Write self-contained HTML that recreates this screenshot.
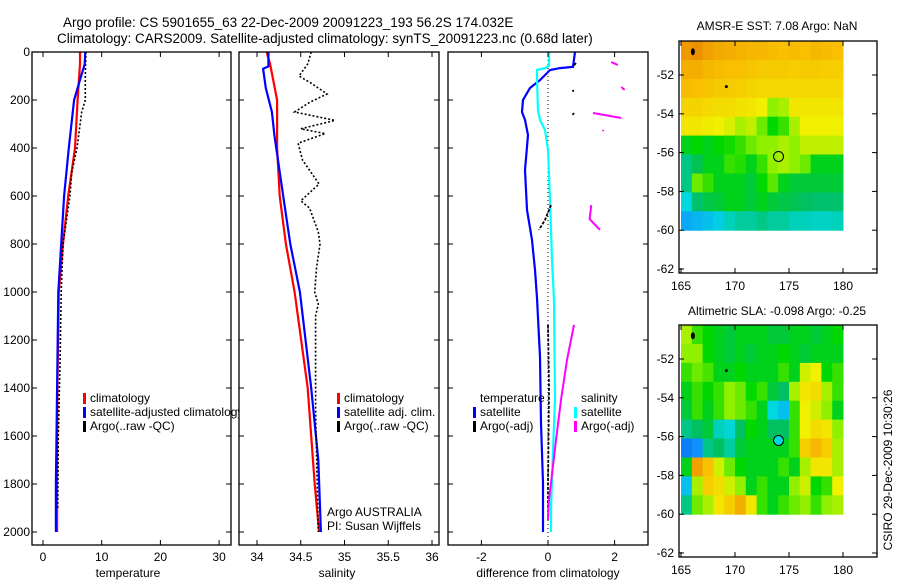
<!DOCTYPE html>
<html><head><meta charset="utf-8"><style>
body{margin:0;background:#fff;}
svg{display:block;font-family:"Liberation Sans",sans-serif;}
text{fill:#000;}
</style></head><body>
<svg id="fig" width="900" height="580" viewBox="0 0 900 580">
<text x="63" y="27" font-size="13.5">Argo profile: CS 5901655_63 22-Dec-2009 20091223_193 56.2S 174.032E</text>
<text x="57" y="43" font-size="13.5">Climatology: CARS2009. Satellite-adjusted climatology: synTS_20091223.nc (0.68d later)</text>
<text x="777" y="30" font-size="12" text-anchor="middle">AMSR-E SST: 7.08 Argo: NaN</text>
<text x="777" y="315" font-size="12" text-anchor="middle">Altimetric SLA: -0.098 Argo: -0.25</text>
<text transform="translate(892,470) rotate(-90)" font-size="12" text-anchor="middle">CSIRO 29-Dec-2009 10:30:26</text>
</svg>
<script>
// ---------- data ----------
const depthTicks=[0,200,400,600,800,1000,1200,1400,1600,1800,2000];
const tempTicks=[0,10,20,30];
const salTicks=[34,34.5,35,35.5,36];
const salTickLabels=["34","34.5","35","35.5","36"];
const diffTicks=[-2,0,2];
const climDepth=[0,50,200,400,600,800,1000,1400,1800,2000];
const tempClim=[6.3,6.3,5.9,5.45,4.3,3.4,2.7,2.45,2.4,2.4];
const tempSat=[7.2,7.1,5.3,4.4,3.6,3.1,2.6,2.4,2.2,2.2];
const argoDepth=[0,100,200,250,400,500,600,800,1000,1300,1600,1900];
const tempArgo=[7.3,7.2,7.2,6.6,5.8,4.9,4.6,3.4,3.1,2.9,2.6,2.5];
const salClim=[34.11,34.15,34.23,34.23,34.26,34.33,34.43,34.58,34.66,34.71];
const salSatDepth=[0,60,70,150,250,350,600,800,1000,1400,1700,2000];
const salSat=[34.13,34.13,34.07,34.1,34.17,34.2,34.3,34.38,34.49,34.62,34.7,34.73];
const salArgoDepth=[0,50,100,130,175,210,250,285,320,340,380,450,550,620,650,750,800,900,1000,1050,1100,1500,2000];
const salArgo=[34.62,34.58,34.48,34.62,34.8,34.6,34.43,34.89,34.5,34.78,34.47,34.52,34.71,34.5,34.6,34.7,34.72,34.68,34.66,34.7,34.67,34.67,34.7];
const dTempSatDepth=[0,62,67,75,117,150,200,250,283,346,492,658,783,908,1025,1270,1546,1796,2000];
const dTempSat=[0.81,0.75,0.36,0.06,-0.24,-0.54,-0.75,-0.78,-0.69,-0.6,-0.69,-0.63,-0.48,-0.39,-0.33,-0.24,-0.21,-0.15,-0.15];
const dSalSatDepth=[0,58,67,75,117,242,283,325,408,617,867,1033,1450,1658,1908,2000];
const dSalSat=[0.03,0.03,-0.09,-0.33,-0.33,-0.3,-0.24,-0.09,0,0.06,0.12,0.18,0.21,0.15,0.09,0.09];
const dTempArgoDepth=[46,56,null,158,166,null,254,262,null,638,700,741,null,1137,1400,1800,1950];
const dTempArgo=[0.84,0.78,null,0.75,0.76,null,0.78,0.74,null,0.09,-0.09,-0.27,null,0,0.03,0,0];
const dSalArgoDepth=[42,54,null,146,158,null,254,275,null,325,330,null,638,696,741,null,1137,1283,1450,1617,1867,1950];
const dSalArgo=[1.9,2.1,null,2.2,2.3,null,1.35,2.2,null,1.65,1.66,null,1.3,1.25,1.56,null,0.78,0.57,0.39,0.24,0.03,0];
const lonTicks=[165,170,175,180];
const latTicks=[-52,-54,-56,-58,-60,-62];
const sstGrid=[
[.86,.88,.85,.83,.82,.81,.8,.8,.79,.78,.79,.78,.8,.79,.78],
[.82,.82,.8,.79,.78,.78,.77,.76,.76,.76,.75,.76,.76,.75,.75],
[.79,.78,.77,.76,.76,.75,.74,.73,.73,.73,.73,.73,.73,.73,.73],
[.74,.74,.73,.72,.72,.71,.7,.68,.6,.62,.7,.7,.7,.7,.7],
[.7,.7,.69,.68,.66,.62,.64,.58,.52,.55,.62,.68,.68,.68,.68],
[.5,.52,.5,.52,.53,.55,.58,.6,.6,.62,.6,.64,.64,.64,.64],
[.42,.46,.5,.5,.55,.54,.5,.55,.6,.62,.6,.58,.5,.5,.5],
[.42,.58,.55,.5,.5,.5,.48,.52,.57,.5,.48,.48,.48,.48,.48],
[.35,.44,.47,.48,.5,.5,.48,.5,.48,.47,.46,.45,.44,.44,.44],
[.25,.28,.3,.33,.38,.4,.4,.42,.4,.4,.38,.38,.37,.37,.38]];
const slaGrid=[
[.62,.55,.52,.5,.48,.5,.5,.5,.48,.48,.5,.5,.48,.5,.52],
[.6,.6,.52,.5,.48,.5,.48,.5,.5,.52,.5,.48,.5,.5,.5],
[.55,.58,.56,.5,.5,.52,.5,.5,.5,.55,.5,.65,.68,.52,.55],
[.5,.55,.52,.55,.6,.58,.52,.55,.48,.45,.62,.7,.72,.62,.55],
[.48,.55,.5,.55,.6,.58,.55,.5,.35,.3,.55,.68,.65,.6,.5],
[.42,.45,.48,.38,.36,.45,.52,.5,.45,.45,.55,.68,.72,.7,.6],
[.15,.2,.42,.45,.4,.48,.5,.5,.5,.5,.55,.75,.8,.75,.62],
[.5,.85,.78,.65,.58,.52,.5,.5,.5,.55,.5,.62,.7,.7,.62],
[.3,.62,.75,.72,.65,.6,.5,.55,.5,.5,.6,.65,.52,.55,.68],
[.42,.58,.62,.7,.75,.82,.7,.55,.5,.55,.58,.6,.55,.6,.62]];
const gridLon0=165, gridLat0=-50.25, gridDLat=0.975;
const argoPos=[174.03,-56.2];

// ---------- helpers ----------
const NS="http://www.w3.org/2000/svg";
const svg=document.getElementById('fig');
function mk(tag,attrs,parent){const e=document.createElementNS(NS,tag);for(const k in attrs)e.setAttribute(k,attrs[k]);(parent||svg).appendChild(e);return e;}
const yD=d=>52+0.24*d;
function panel(x0,x1,name){
  const g=mk('g',{});
  
  
  const cp=mk('clipPath',{id:'clip-'+name},g);mk('rect',{x:x0,y:52,width:x1-x0,height:493},cp);
  return g;
}
function frame(g,x0,x1){const r=mk('rect',{x:x0,y:52,width:x1-x0,height:493,fill:'none',stroke:'#000','stroke-width':1.3},g);
  }
function series(g,clip,depths,vals,xs,color,w,dash,name){
  let pts=[];const segs=[];
  for(let i=0;i<depths.length;i++){if(depths[i]===null){if(pts.length)segs.push(pts);pts=[];continue;}pts.push(xs(vals[i]).toFixed(1)+','+yD(depths[i]).toFixed(1));}
  if(pts.length)segs.push(pts);
  segs.forEach(s=>{const p=mk('polyline',{points:s.join(' '),fill:'none',stroke:color,'stroke-width':w,'clip-path':'url(#clip-'+clip+')'},g);
    if(dash)p.setAttribute('stroke-dasharray',dash);
    
    });
}
function xaxis(g,ticks,labels,xs,title,tx){
  ticks.forEach((t,i)=>{const x=xs(t);mk('line',{x1:x,y1:545,x2:x,y2:540,stroke:'#000'},g);mk('line',{x1:x,y1:52,x2:x,y2:57,stroke:'#000'},g);
    const l=mk('text',{x:x,y:561,'font-size':12,'text-anchor':'middle'},g);l.textContent=labels[i];
    });
  const tt=mk('text',{x:tx,y:577,'font-size':12,'text-anchor':'middle'},g);tt.textContent=title;
  
}
function yticks(g,x0,x1,labels){
  depthTicks.forEach(d=>{const y=yD(d);mk('line',{x1:x0,y1:y,x2:x0+5,y2:y,stroke:'#000'},g);mk('line',{x1:x1,y1:y,x2:x1-5,y2:y,stroke:'#000'},g);
   if(labels){const l=mk('text',{x:x0-2,y:y+4,'font-size':12,'text-anchor':'end'},g);l.textContent=d;
    }});
}
function legend(g,x,y,items,clip){
  items.forEach((it,i)=>{
    if(it[1]){const b=mk('rect',{x:x,y:y+i*14-9,width:3,height:11,fill:it[1]},g);}
    const t=mk('text',{x:x+7,y:y+i*14,'font-size':12},g);t.textContent=it[0];
    if(clip)t.setAttribute('clip-path','url(#'+clip+')');
    });
}

// ---------- panel 1: temperature ----------
const xT=t=>43+5.87*t;
let g1=panel(32,231,'temperature-panel');
series(g1,'temperature-panel',climDepth,tempClim,xT,'#ff0000',2.2,null,'temp-climatology-line');
series(g1,'temperature-panel',climDepth,tempSat,xT,'#0000ff',2.2,null,'temp-satellite-line');
series(g1,'temperature-panel',argoDepth,tempArgo,xT,'#000',1.6,'2 2','temp-argo-line');
frame(g1,32,231);yticks(g1,32,231,true);
xaxis(g1,tempTicks,tempTicks.map(String),xT,'temperature',128);
const lc=mk('clipPath',{id:'legclip'},g1);mk('rect',{x:0,y:0,width:239,height:580},lc);
legend(g1,83,402,[['climatology','#ff0000'],['satellite-adjusted climatology','#0000ff'],['Argo(..raw -QC)','#000']],'legclip');

// ---------- panel 2: salinity ----------
const xS=s=>257+87.5*(s-34);
let g2=panel(239,439,'salinity-panel');
series(g2,'salinity-panel',climDepth,salClim,xS,'#ff0000',2.2,null,'sal-climatology-line');
series(g2,'salinity-panel',salSatDepth,salSat,xS,'#0000ff',2.2,null,'sal-satellite-line');
series(g2,'salinity-panel',salArgoDepth,salArgo,xS,'#000',1.6,'2 2','sal-argo-line');
frame(g2,239,439);yticks(g2,239,439,false);
xaxis(g2,salTicks,salTickLabels,xS,'salinity',337);
legend(g2,337,402,[['climatology','#ff0000'],['satellite adj. clim.','#0000ff'],['Argo(..raw -QC)','#000']]);
const a1=mk('text',{x:327,y:516,'font-size':12},g2);a1.textContent='Argo AUSTRALIA';
const a2=mk('text',{x:327,y:530,'font-size':12},g2);a2.textContent='PI: Susan Wijffels';

// ---------- panel 3: difference ----------
const xDf=d=>548+33.3*d;
let g3=panel(448,648,'difference-panel');
mk('line',{x1:548,y1:52,x2:548,y2:545,stroke:'#000','stroke-dasharray':'1 3'},g3);
series(g3,'difference-panel',dTempSatDepth,dTempSat,xDf,'#0000ff',2.2,null,'diff-temp-satellite-line');
series(g3,'difference-panel',dSalSatDepth,dSalSat,xDf,'#00ffff',2.2,null,'diff-sal-satellite-line');
series(g3,'difference-panel',dTempArgoDepth,dTempArgo,xDf,'#000',1.8,'3 1.5','diff-temp-argo-line');
series(g3,'difference-panel',dSalArgoDepth,dSalArgo,xDf,'#ff00ff',2,null,'diff-sal-argo-line');
frame(g3,448,648);yticks(g3,448,648,false);
xaxis(g3,diffTicks,diffTicks.map(String),xDf,'difference from climatology',548);
legend(g3,473,402,[['temperature',null],['satellite','#0000ff'],['Argo(-adj)','#000']]);
legend(g3,574,402,[['salinity',null],['satellite','#00ffff'],['Argo(-adj)','#ff00ff']]);

// ---------- maps ----------
const cstops=[[0,[0,64,224]],[.2,[16,144,255]],[.35,[0,216,224]],[.45,[0,192,96]],[.52,[0,216,0]],[.6,[144,240,0]],[.68,[240,240,0]],[.78,[248,192,0]],[.85,[240,160,0]],[1,[224,80,0]]];
function cmap(v){for(let i=1;i<cstops.length;i++){if(v<=cstops[i][0]){const a=cstops[i-1],b=cstops[i],f=(v-a[0])/(b[0]-a[0]);
  return 'rgb('+a[1].map((c,k)=>Math.round(c+f*(b[1][k]-c))).join(',')+')';}}return 'rgb(224,80,0)';}
function drawMap(grid,off,name,filledCircle){
  const g=mk('g',{});
  
  
  const xL=l=>681+10.8*(l-165), yL=la=>75+off+19.4*(-52-la);
  grid.forEach((row,r)=>row.forEach((v,c)=>{
    const x=xL(gridLon0+c), y=yL(gridLat0-r*gridDLat);
    const cell=mk('rect',{x:x.toFixed(1),y:y.toFixed(1),width:11.3,height:19.4*gridDLat+0.5,fill:cmap(v)},g);
    
    
  }));
  mk('rect',{x:679,y:41+off,width:198,height:232,fill:'none',stroke:'#000','stroke-width':1.3},g);
  lonTicks.forEach(l=>{const x=xL(l);mk('line',{x1:x,y1:273+off,x2:x,y2:268+off,stroke:'#000'},g);mk('line',{x1:x,y1:41+off,x2:x,y2:46+off,stroke:'#000'},g);
    const t=mk('text',{x:x,y:290+off,'font-size':12,'text-anchor':'middle'},g);t.textContent=l;});
  latTicks.forEach(la=>{const y=yL(la);mk('line',{x1:679,y1:y,x2:684,y2:y,stroke:'#000'},g);mk('line',{x1:877,y1:y,x2:872,y2:y,stroke:'#000'},g);
    const t=mk('text',{x:674,y:y+4,'font-size':12,'text-anchor':'end'},g);t.textContent=la;});
  mk('ellipse',{cx:xL(166.1),cy:yL(-50.8),rx:2,ry:3.5,fill:'#000'},g);
  mk('circle',{cx:xL(169.2),cy:yL(-52.6),r:1.5,fill:'#000'},g);
  const c=mk('circle',{cx:xL(argoPos[0]),cy:yL(argoPos[1]),r:5,fill:filledCircle?'#00d8e0':'none',stroke:'#000','stroke-width':1},g);
  
}
drawMap(sstGrid,0,'sst-map',false);
drawMap(slaGrid,284,'sla-map',true);
</script>
</body></html>
